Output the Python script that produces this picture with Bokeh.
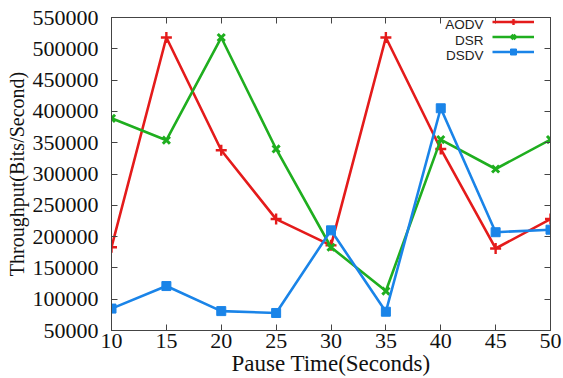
from bokeh.plotting import figure
from bokeh.models import (LinearAxis, Legend, LegendItem, Label, FixedTicker,
                          Range1d, BasicTickFormatter)
from bokeh.embed import file_html
from bokeh.resources import INLINE

# ---- data ----
pause_time = [10, 15, 20, 25, 30, 35, 40, 45, 50]
aodv = [183000, 518000, 338000, 228000, 186000, 518000, 340000, 181000, 228000]
dsr = [389000, 354000, 518000, 340000, 183000, 113000, 355000, 308000, 355000]
dsdv = [85000, 121000, 81000, 78000, 210000, 80000, 405000, 207000, 211000]
x_ticks = [10, 15, 20, 25, 30, 35, 40, 45, 50]
y_ticks = [50000, 100000, 150000, 200000, 250000, 300000, 350000, 400000, 450000, 500000, 550000]
series_names = ["AODV", "DSR", "DSDV"]
x_label = "Pause Time(Seconds)"
y_label = "Throughput(Bits/Second)"

RED = "#e41b1b"
GREEN = "#1fae1f"
BLUE = "#1a84e8"
AX = "#444444"
SERIF = "Liberation Serif"

p = figure(width=563, height=378, output_backend="svg", toolbar_location=None,
           x_range=Range1d(10, 50), y_range=Range1d(50000, 550000),
           min_border_left=111, min_border_right=13, min_border_top=17,
           min_border_bottom=45)
p.outline_line_color = AX
p.xgrid.visible = False
p.ygrid.visible = False

# bottom axis
xa = p.xaxis[0]
xa.ticker = FixedTicker(ticks=x_ticks)
xa.axis_label = x_label
xa.axis_label_text_font = SERIF
xa.axis_label_text_font_style = "normal"
xa.axis_label_text_font_size = "23px"
xa.axis_label_text_color = "#111111"
xa.axis_label_standoff = 0
xa.major_label_text_font = SERIF
xa.major_label_text_font_size = "22px"
xa.major_label_text_color = "#111111"
xa.major_label_standoff = 3
xa.major_tick_in = 6
xa.major_tick_out = 0
xa.minor_tick_line_color = None
xa.axis_line_color = AX
xa.major_tick_line_color = AX

# left axis
ya = p.yaxis[0]
ya.ticker = FixedTicker(ticks=y_ticks)
ya.formatter = BasicTickFormatter(use_scientific=False)
ya.axis_label = y_label
ya.axis_label_text_font = SERIF
ya.axis_label_text_font_style = "normal"
ya.axis_label_text_font_size = "20px"
ya.axis_label_text_color = "#111111"
ya.axis_label_standoff = 2
ya.major_label_text_font = SERIF
ya.major_label_text_font_size = "22px"
ya.major_label_text_color = "#111111"
ya.major_label_standoff = 13
ya.major_tick_in = 6
ya.major_tick_out = 0
ya.minor_tick_line_color = None
ya.axis_line_color = AX
ya.major_tick_line_color = AX

# mirror axes (ticks only, no labels)
top = LinearAxis(ticker=FixedTicker(ticks=x_ticks),
                 major_label_overrides={t: "" for t in x_ticks},
                 major_label_standoff=0, major_tick_in=6, major_tick_out=0,
                 minor_tick_line_color=None, axis_line_color=AX, major_tick_line_color=AX)
right = LinearAxis(ticker=FixedTicker(ticks=y_ticks),
                   major_label_overrides={t: "" for t in y_ticks},
                   major_label_standoff=0, major_tick_in=6, major_tick_out=0,
                   minor_tick_line_color=None, axis_line_color=AX, major_tick_line_color=AX)
p.add_layout(top, "above")
p.add_layout(right, "right")

# series
la = p.line(pause_time, aodv, line_color=RED, line_width=2.6)
sa = p.scatter(pause_time, aodv, marker="cross", size=11, line_color=RED, line_width=2.4)
ld = p.line(pause_time, dsr, line_color=GREEN, line_width=2.6)
sd = p.scatter(pause_time, dsr, marker="x", size=10, line_color=GREEN, line_width=3)
lv = p.line(pause_time, dsdv, line_color=BLUE, line_width=2.6)
sv = p.scatter(pause_time, dsdv, marker="square", size=9, fill_color=BLUE, line_color=BLUE)

# legend samples (gnuplot style: text on left, sample on right)
legend = Legend(items=[LegendItem(label=" ", renderers=[la, sa]),
                       LegendItem(label=" ", renderers=[ld, sd]),
                       LegendItem(label=" ", renderers=[lv, sv])],
                location=(381, 271), orientation="vertical",
                glyph_width=42, glyph_height=15, label_width=0, label_height=15,
                label_standoff=0, padding=0, margin=0, spacing=0,
                border_line_color=None, background_fill_alpha=0,
                label_text_font_size="1px")
p.add_layout(legend)

legend_y = [538500, 513600, 489600]
for name, yv in zip(series_names, legend_y):
    p.add_layout(Label(x=43.9, y=yv, text=name, text_align="right",
                       text_baseline="middle", text_font="Liberation Sans",
                       text_font_size="13.5px", text_color="#222222"))

open("out.html", "w").write(file_html(p, INLINE))
